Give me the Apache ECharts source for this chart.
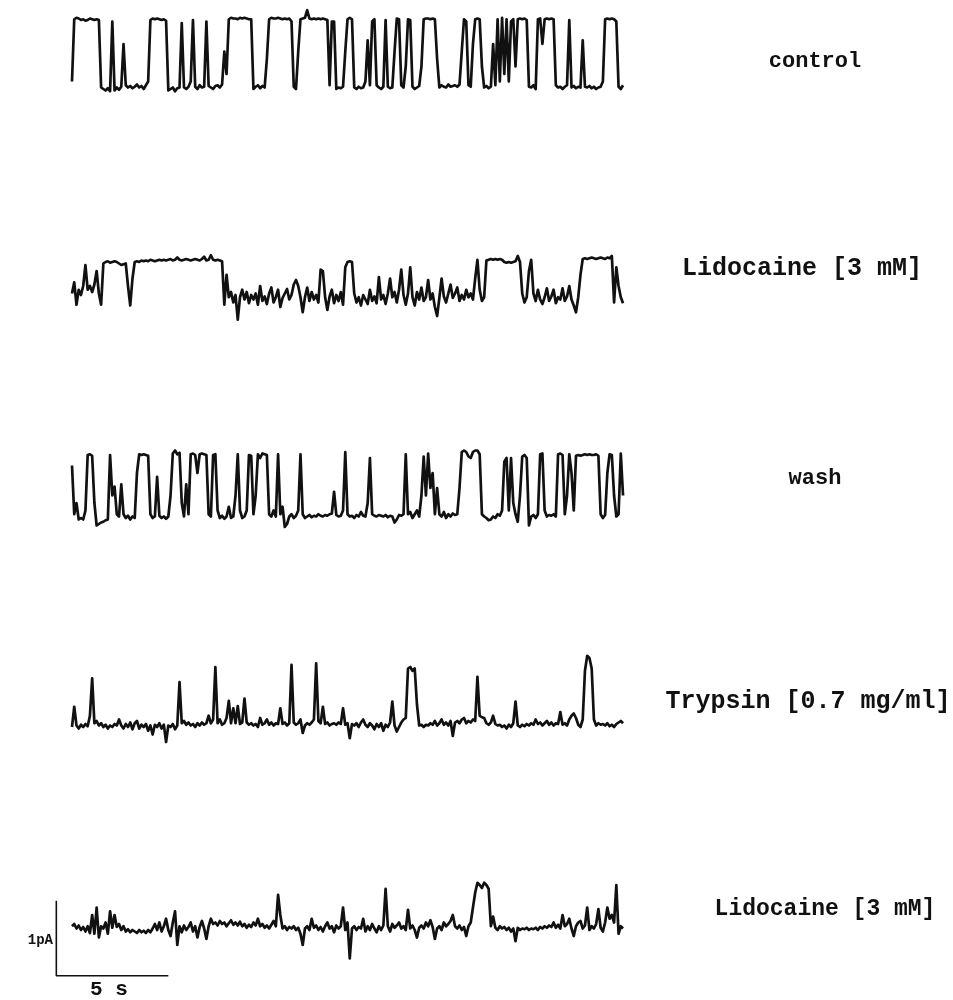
<!DOCTYPE html>
<html><head><meta charset="utf-8">
<script src="https://cdn.jsdelivr.net/npm/echarts@6/dist/echarts.min.js"></script>
<style>html,body{margin:0;padding:0;background:#fff}#c{width:953px;height:1000px}</style>
</head><body><div id="c"></div>
<script>
const DT = 0.1;
const traceLabels = ['control', 'Lidocaine [3 mM]', 'wash', 'Trypsin [0.7 mg/ml]', 'Lidocaine [3 mM]'];
// current (pA) relative to the closed level, one value per sample
const control = [
 0.1,0.93,0.95,0.94,0.92,0.93,0.91,0.92,0.94,0.93,
 0.92,0.93,0.92,0.02,0.0,-0.02,0.01,-0.03,0.9,-0.02,
 0.02,-0.01,0.03,0.6,0.05,0.02,0.04,0.01,0.03,0.06,
 0.02,0.04,0.0,0.05,0.1,0.92,0.94,0.93,0.94,0.93,
 0.92,0.93,0.91,-0.02,0.0,0.02,-0.03,0.01,0.02,0.88,
 0.02,0.0,0.03,0.1,0.92,0.03,0.0,0.05,0.02,0.03,
 0.9,0.04,0.02,0.0,0.04,0.05,0.02,0.06,0.5,0.2,
 0.93,0.95,0.94,0.94,0.93,0.95,0.94,0.95,0.94,0.93,
 0.93,0.0,0.03,0.05,0.01,0.04,0.02,0.4,0.93,0.95,
 0.94,0.94,0.95,0.94,0.93,0.94,0.93,0.94,0.9,0.03,
 0.0,0.5,0.93,0.94,0.95,1.05,0.94,0.93,0.94,0.93,
 0.94,0.93,0.94,0.93,0.92,0.05,0.9,0.9,0.0,0.02,
 0.01,0.03,0.5,0.93,0.95,0.93,0.02,0.0,0.03,0.01,
 0.02,0.1,0.65,0.05,0.9,0.93,0.05,0.02,0.0,0.03,
 0.92,0.03,0.01,0.02,0.5,0.94,0.93,0.05,0.02,0.3,
 0.93,0.92,0.03,0.0,0.02,0.04,0.3,0.93,0.94,0.94,
 0.93,0.94,0.93,0.4,0.02,0.05,0.03,0.02,0.06,0.03,
 0.04,0.05,0.03,0.06,0.5,0.93,0.9,0.05,0.03,0.6,
 0.93,0.94,0.93,0.3,0.02,0.04,0.01,0.03,0.6,0.05,
 0.93,0.1,0.95,0.2,0.93,0.1,0.9,0.93,0.3,0.93,
 0.94,0.93,0.94,0.92,0.03,0.02,0.05,0.0,0.93,0.94,
 0.6,0.93,0.94,0.93,0.94,0.93,0.05,0.02,0.03,0.0,
 0.03,0.05,0.92,0.02,0.04,0.01,0.03,0.02,0.65,0.03,
 0.02,0.04,0.01,0.03,0.0,0.02,0.03,0.1,0.93,0.94,
 0.93,0.94,0.93,0.9,0.03,0.0,0.05];
const lidocaine1 = [
 0.1,0.25,-0.05,0.15,0.08,0.2,0.48,0.15,0.2,0.12,
 0.22,0.4,0.1,-0.05,0.5,0.52,0.53,0.51,0.52,0.53,
 0.52,0.5,0.48,0.49,0.5,0.2,-0.06,0.3,0.52,0.53,
 0.52,0.54,0.53,0.54,0.53,0.55,0.54,0.53,0.54,0.55,
 0.54,0.55,0.54,0.55,0.56,0.54,0.55,0.58,0.55,0.54,
 0.55,0.56,0.55,0.54,0.55,0.56,0.55,0.54,0.56,0.59,
 0.54,0.55,0.61,0.55,0.54,0.55,0.54,0.53,-0.05,0.35,
 0.05,0.12,-0.02,0.08,-0.25,0.05,0.15,0.02,0.12,-0.03,
 0.08,0.02,0.1,-0.05,0.2,0.0,0.06,-0.04,0.1,0.18,
 -0.02,0.05,0.15,-0.08,0.04,0.1,0.16,0.02,0.08,0.22,
 0.28,0.2,0.05,-0.15,0.05,0.18,0.0,0.12,0.02,0.08,
 -0.02,0.42,0.4,0.05,-0.12,0.06,0.15,-0.03,0.08,0.0,
 0.12,-0.05,0.45,0.52,0.53,0.52,0.1,-0.02,0.05,-0.06,
 0.08,0.02,-0.04,0.15,0.0,0.06,-0.03,0.32,0.02,0.08,
 -0.04,0.1,0.3,0.05,0.12,-0.02,0.15,0.42,0.08,-0.05,
 0.1,0.45,0.05,-0.06,0.12,0.02,0.18,0.0,0.05,0.28,
 0.02,0.1,-0.08,-0.2,0.04,0.3,0.06,-0.02,0.1,0.22,
 0.04,0.1,0.18,0.0,0.08,0.02,0.15,0.05,0.1,0.02,
 0.3,0.55,0.15,0.0,0.05,0.54,0.55,0.56,0.55,0.56,
 0.55,0.56,0.55,0.52,0.51,0.52,0.51,0.52,0.53,0.6,
 0.52,0.1,-0.02,0.05,0.4,0.55,0.1,0.0,0.15,0.02,
 -0.04,0.05,0.17,0.0,0.06,0.15,-0.03,0.05,0.02,0.17,
 0.0,0.06,0.2,0.02,-0.06,-0.15,0.05,0.35,0.56,0.57,
 0.56,0.57,0.58,0.57,0.56,0.57,0.58,0.57,0.56,0.58,
 0.57,0.6,-0.02,0.45,0.2,0.05,-0.03];
const wash = [
 0.7,0.05,0.2,-0.02,0.0,-0.02,0.1,0.84,0.85,0.83,
 0.2,-0.1,-0.08,-0.06,-0.05,-0.03,-0.02,0.84,0.3,0.42,
 0.05,0.02,0.45,0.05,0.0,0.03,-0.02,0.02,0.0,0.6,
 0.85,0.84,0.85,0.84,0.83,0.05,0.0,0.02,0.55,0.03,
 0.0,0.02,-0.01,0.02,0.3,0.86,0.9,0.85,0.87,0.2,
 0.02,0.45,0.05,0.85,0.86,0.84,0.6,0.85,0.86,0.85,
 0.84,0.05,0.02,0.84,0.85,0.1,0.0,0.03,-0.01,0.02,
 0.15,0.0,0.02,0.3,0.85,0.1,0.0,0.02,0.1,0.84,
 0.83,0.05,0.3,0.85,0.8,0.86,0.85,0.84,0.05,0.02,
 0.1,0.02,0.85,0.05,0.15,-0.12,-0.08,0.02,0.05,0.0,
 0.03,0.1,0.85,0.05,0.0,0.02,0.04,0.01,0.03,0.02,
 0.05,0.03,0.02,0.04,0.03,0.05,0.06,0.35,0.04,0.02,
 0.03,0.1,0.88,0.05,0.02,0.03,0.0,0.04,0.02,0.08,
 0.03,0.02,0.2,0.8,0.05,0.03,0.02,0.04,0.03,0.02,
 0.04,0.01,0.03,0.02,-0.06,-0.02,0.04,0.03,0.05,0.85,
 0.05,0.08,0.0,0.05,0.1,0.02,0.3,0.82,0.3,0.86,
 0.4,0.6,0.05,0.4,0.05,0.02,0.08,0.0,0.05,0.02,
 0.06,0.04,0.05,0.4,0.88,0.9,0.88,0.82,0.8,0.88,
 0.9,0.9,0.85,0.05,0.02,0.0,-0.03,-0.02,0.02,0.0,
 0.05,0.03,0.1,0.75,0.8,0.1,0.8,0.2,0.05,-0.05,
 0.3,0.82,0.84,0.8,-0.1,0.02,0.04,0.0,0.05,0.85,
 0.86,0.1,0.02,0.04,0.03,0.05,0.02,0.85,0.86,0.84,
 0.05,0.3,0.85,0.6,0.1,0.83,0.84,0.83,0.84,0.85,
 0.84,0.85,0.84,0.84,0.85,0.83,0.05,0.0,0.04,0.6,
 0.85,0.84,0.3,0.02,0.05,0.86,0.3];
const trypsin = [
 0.0,0.27,0.02,-0.02,0.03,0.0,0.04,0.01,0.15,0.65,
 0.05,0.08,0.02,0.05,0.0,0.03,-0.02,0.02,0.0,0.04,
 0.02,0.1,0.02,-0.02,0.04,0.0,0.06,-0.03,0.05,0.08,
 -0.02,0.03,0.0,0.04,-0.05,0.02,-0.1,0.03,0.0,0.05,
 -0.02,0.03,-0.2,0.02,0.0,0.04,-0.03,0.02,0.6,0.05,
 0.08,0.03,0.06,0.02,0.04,0.0,0.05,0.02,0.06,0.03,
 0.05,0.15,0.05,0.1,0.8,0.05,0.1,0.03,0.05,0.12,
 0.35,0.05,0.25,0.05,0.28,0.04,0.06,0.38,0.06,0.03,
 0.05,0.02,0.04,0.0,0.12,0.03,0.05,0.1,0.03,0.06,
 0.02,0.05,0.04,0.25,0.04,0.06,0.02,0.05,0.83,0.06,
 0.03,0.05,0.1,-0.08,0.02,0.05,0.03,0.06,0.1,0.85,
 0.08,0.05,0.27,0.04,0.06,0.02,0.04,0.05,0.03,0.06,
 0.04,0.25,0.03,0.05,-0.15,0.04,0.02,0.05,0.0,0.06,
 0.1,0.03,0.0,0.05,0.02,-0.03,0.04,0.0,0.05,-0.05,
 0.03,0.0,0.06,0.34,0.02,-0.06,0.0,0.06,0.1,0.12,
 0.78,0.8,0.75,0.78,0.3,0.02,0.03,0.0,0.03,0.02,
 0.05,0.03,0.08,0.02,0.05,0.1,0.03,0.06,0.02,0.08,
 -0.12,0.06,0.08,0.05,0.1,0.12,0.05,0.08,0.06,0.1,
 0.08,0.67,0.15,0.13,0.12,0.05,0.03,0.06,0.15,0.04,
 0.02,0.03,0.0,0.02,-0.02,0.03,0.0,0.05,0.34,0.02,
 0.0,0.03,0.01,0.04,0.02,0.05,0.03,0.1,0.04,0.06,
 0.02,0.05,0.08,0.03,0.06,0.02,0.05,0.04,0.2,0.03,
 0.05,0.02,0.1,0.15,0.18,0.12,0.03,0.0,0.1,0.75,
 0.95,0.92,0.78,0.1,0.02,0.05,0.03,0.04,0.02,0.05,
 0.01,0.03,0.0,0.04,0.06,0.08,0.05];
const lidocaine2 = [
 0.05,0.08,0.02,0.06,0.0,0.04,-0.02,0.05,-0.04,0.2,
 -0.05,0.3,-0.1,0.05,0.02,0.1,-0.05,0.25,0.03,0.2,
 0.04,0.08,0.0,0.05,-0.02,0.01,-0.03,0.0,-0.02,-0.04,
 0.0,-0.03,-0.01,-0.04,0.0,-0.03,0.02,0.08,0.0,0.1,
 -0.02,0.05,0.15,0.0,-0.08,0.1,0.25,-0.2,0.05,-0.03,
 0.06,0.0,0.04,0.1,-0.02,0.05,-0.1,0.04,0.12,0.02,
 -0.12,0.05,0.15,0.08,0.1,0.06,0.12,0.08,0.1,0.05,
 0.09,0.13,0.07,0.1,0.06,0.11,0.05,0.08,0.03,0.07,
 0.04,0.1,0.06,0.15,0.05,0.08,0.03,0.06,0.02,0.07,
 0.12,0.05,0.47,0.2,0.02,0.05,0.0,0.04,0.02,0.05,
 0.0,0.03,-0.05,-0.2,0.02,0.05,0.0,0.15,0.03,0.06,
 0.0,0.04,-0.02,0.05,0.1,0.02,0.05,-0.03,0.06,0.02,
 0.05,0.3,0.0,0.1,-0.38,0.02,0.05,0.0,0.04,0.02,
 0.15,-0.02,0.05,0.0,0.08,0.02,-0.03,0.05,0.0,0.06,
 0.55,0.05,-0.02,0.08,0.03,0.06,0.1,0.02,0.05,0.0,
 0.27,0.02,0.06,0.0,-0.1,0.03,0.06,0.02,0.1,0.05,
 0.13,0.04,-0.12,0.02,0.05,0.0,0.1,0.05,0.08,0.12,
 0.2,0.05,0.02,0.06,0.0,0.04,-0.08,0.05,0.1,0.3,
 0.5,0.63,0.6,0.56,0.63,0.6,0.55,0.05,0.18,0.03,
 0.0,0.05,0.02,0.04,0.0,0.03,-0.02,0.02,-0.15,0.03,
 0.0,0.02,0.01,0.03,0.0,0.02,0.01,0.03,0.0,0.04,
 0.02,0.05,0.03,0.06,0.04,0.1,0.03,0.07,0.02,0.2,
 0.05,0.08,0.15,0.02,-0.08,0.05,0.1,0.12,0.02,0.06,
 0.3,0.0,0.05,0.02,0.08,0.28,0.03,-0.02,0.1,0.3,
 0.15,0.2,0.1,0.6,-0.05,0.05,0.02];
// calibration bar
const scaleBarTime = 5;      // s
const scaleBarCurrent = 1;   // pA
const scaleBarCorner = [-0.7, -0.61]; // [s, pA] in the last trace's axes
const scaleLabels = ['1pA', '5 s'];

const traces = [control, lidocaine1, wash, trypsin, lidocaine2];

// ---- layout ----
const PX_PER_S = 22.4, PX_PER_PA = 75, X0 = 72;
const X_MIN = -1, X_MAX = 25, Y_MIN = -0.7, Y_MAX = 1.1;
const baselinePx = [89, 301, 518, 727, 930];
const labelPos = [[815, 61, 22], [802, 269, 25], [815, 478, 22], [808, 702, 25], [825, 909, 23]];

const grid = [], xAxis = [], yAxis = [], series = [];
traces.forEach((vals, k) => {
  grid.push({ left: X0 + X_MIN * PX_PER_S, width: (X_MAX - X_MIN) * PX_PER_S,
              top: baselinePx[k] - Y_MAX * PX_PER_PA, height: (Y_MAX - Y_MIN) * PX_PER_PA });
  xAxis.push({ gridIndex: k, type: 'value', min: X_MIN, max: X_MAX, show: false });
  yAxis.push({ gridIndex: k, type: 'value', min: Y_MIN, max: Y_MAX, show: false });
  series.push({ type: 'line', xAxisIndex: k, yAxisIndex: k, showSymbol: false, silent: true,
    data: vals.map((v, i) => [+(i * DT).toFixed(2), v]),
    lineStyle: { color: '#111', width: 2.7, join: 'round' } });
});
const last = traces.length - 1;
const [t0, i0] = scaleBarCorner;
series.push({ type: 'line', xAxisIndex: last, yAxisIndex: last, showSymbol: false, silent: true,
  data: [[t0, i0 + scaleBarCurrent], [t0, i0], [t0 + scaleBarTime, i0]],
  lineStyle: { color: '#111', width: 1.6 } });

const font = "'Liberation Mono', 'DejaVu Sans Mono', monospace";
const graphic = traceLabels.map((t, k) => ({
  type: 'text', x: labelPos[k][0], y: labelPos[k][1],
  style: { text: t, fill: '#111', font: 'bold ' + labelPos[k][2] + 'px ' + font,
           textAlign: 'center', textVerticalAlign: 'middle' } }));
graphic.push({ type: 'text', x: 53, y: 940, style: { text: scaleLabels[0], fill: '#111',
  font: 'bold 14px ' + font, textAlign: 'right', textVerticalAlign: 'middle' } });
graphic.push({ type: 'text', x: 109, y: 990, style: { text: scaleLabels[1], fill: '#111',
  font: 'bold 21px ' + font, textAlign: 'center', textVerticalAlign: 'middle' } });

const chart = echarts.init(document.getElementById('c'), null, { renderer: 'canvas' });
chart.setOption({ animation: false, backgroundColor: '#fff', grid, xAxis, yAxis, series, graphic });
</script></body></html>
